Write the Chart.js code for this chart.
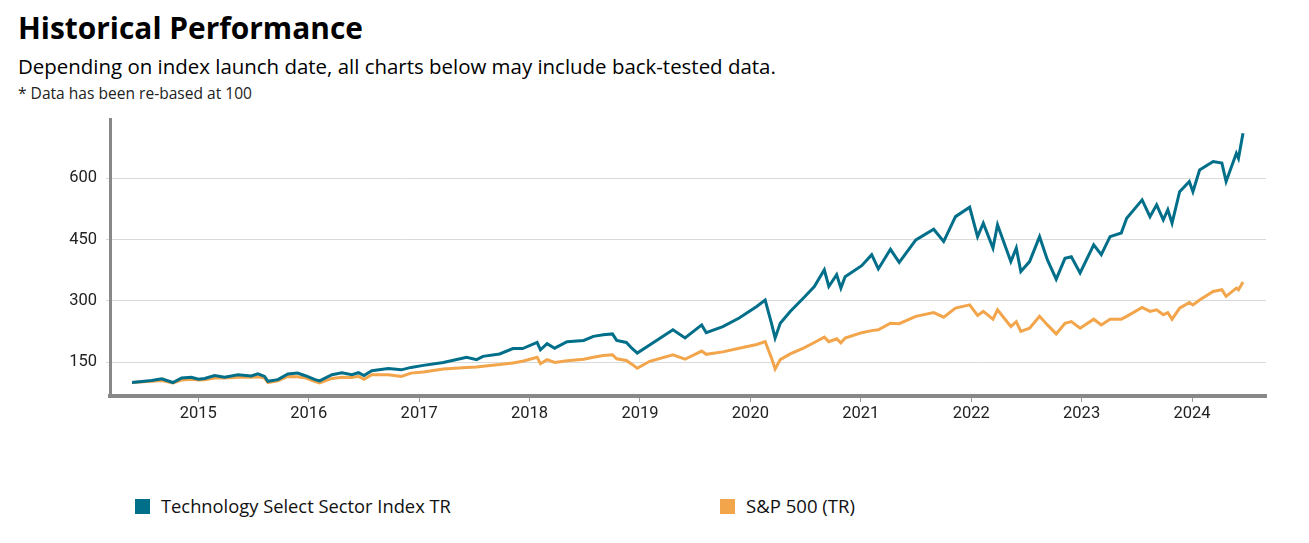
<!DOCTYPE html>
<html>
<head>
<meta charset="utf-8">
<script src="https://cdn.jsdelivr.net/npm/chart.js@4"></script>
<style>
  html, body { margin: 0; padding: 0; background: #fff; }
  body { width: 1309px; height: 543px; position: relative; overflow: hidden; font-family: "Open Sans", "Noto Sans", sans-serif; color: #000; }
  .txt { position: absolute; white-space: nowrap; line-height: 1; }
  #title { font-weight: 700; }
  #note { color: #222; }
  #wrap { position: absolute; left: 0; top: 100px; width: 1309px; height: 340px; }
  .sw { position: absolute; width: 15px; height: 15px; }
  .lt { color: #111; }
</style>
</head>
<body>
<div id="title" class="txt">Historical Performance</div>
<div id="subtitle" class="txt">Depending on index launch date, all charts below may include back-tested data.</div>
<div id="note" class="txt">* Data has been re-based at 100</div>
<div id="wrap"><canvas id="c"></canvas></div>
<div id="legend"></div>
<script>
// ---- data ----
const seriesNames = ["Technology Select Sector Index TR", "S&P 500 (TR)"];
const seriesColors = ["#016F89", "#F2A54B"];
const yTickValues = [150, 300, 450, 600];
const xTickYears = [2015, 2016, 2017, 2018, 2019, 2020, 2021, 2022, 2023, 2024];
const dates = [
  "2014-05-27","2014-07-31","2014-09-02","2014-10-09","2014-11-07","2014-12-09",
  "2015-01-01","2015-01-22","2015-02-24","2015-03-29","2015-05-12","2015-06-25","2015-07-17","2015-08-08","2015-08-19","2015-09-21","2015-10-24","2015-11-25","2015-12-23",
  "2016-01-22","2016-02-06","2016-03-18","2016-04-20","2016-05-23","2016-06-14","2016-07-02","2016-07-28","2016-09-21","2016-11-03","2016-12-05",
  "2017-01-15","2017-03-22","2017-06-07","2017-07-10","2017-07-31","2017-09-24","2017-11-07","2017-12-09",
  "2018-01-26","2018-02-06","2018-02-28","2018-03-25","2018-05-05","2018-06-29","2018-07-31","2018-09-02","2018-10-02","2018-10-16","2018-11-17","2018-12-05","2018-12-23",
  "2019-02-02","2019-04-20","2019-05-30","2019-07-24","2019-08-08","2019-10-02","2019-11-25",
  "2020-01-22","2020-02-19","2020-03-11","2020-03-23","2020-04-09","2020-05-12","2020-06-25","2020-07-31","2020-09-02","2020-09-17","2020-10-13","2020-10-27","2020-11-10",
  "2021-01-04","2021-02-06","2021-02-28","2021-04-09","2021-05-08","2021-07-02","2021-08-30","2021-10-02","2021-11-10","2021-12-27",
  "2022-01-22","2022-02-10","2022-03-14","2022-03-29","2022-05-12","2022-05-30","2022-06-14","2022-07-13","2022-08-15","2022-09-10","2022-10-09","2022-11-07","2022-11-28","2022-12-27",
  "2023-02-10","2023-03-07","2023-04-05","2023-05-12","2023-05-30","2023-07-20","2023-08-15","2023-09-06","2023-09-28","2023-10-13","2023-10-27","2023-11-21","2023-12-23",
  "2024-01-04","2024-01-26","2024-03-11","2024-04-09","2024-04-23","2024-05-27","2024-06-03","2024-06-18"
];
const techValues = [
  100,105,109,100,111,113,
  108,110,117,113,119,116,121,115,103,107,121,123,116,
  107,104,119,124,119,124,117,129,134,131,137,
  142,149,162,156,164,170,183,183,
  198,180,195,184,200,203,213,217,219,203,198,184,172,
  192,229,209,241,222,237,258,
  286,302,245,209,245,274,307,335,376,335,364,331,359,
  386,413,378,426,394,449,475,445,506,529,
  457,490,429,486,396,429,372,396,457,400,353,404,408,368,
  437,413,457,466,502,547,506,535,498,523,490,567,592,
  567,620,641,637,592,661,649,710
];
const spValues = [
  100,103,105,99,106,108,
  106,107,111,111,113,113,114,111,100,104,115,114,111,
  102,99,110,113,112,115,108,119,119,115,123,
  126,133,137,138,140,144,148,152,
  162,146,156,149,153,157,162,166,168,158,154,145,135,
  152,168,157,177,169,175,184,
  193,200,160,133,156,170,184,198,211,200,207,197,209,
  222,227,229,245,244,262,271,260,282,290,
  264,274,255,278,237,249,225,233,262,241,219,245,249,233,
  255,241,255,255,262,284,274,278,266,271,255,282,296,
  290,302,323,327,311,331,327,346
];
const xMin = 2014.2, xMax = 2024.67, yMin = 67, yMax = 745;

// ---- text layout: fit each text to its measured width/baseline in the reference ----
function place(el, left, baseline, targetWidth) {
  el.style.fontSize = "20px";
  const w = el.getBoundingClientRect().width;
  const size = 20 * targetWidth / w;
  el.style.fontSize = size.toFixed(2) + "px";
  el.style.left = left + "px";
  el.style.top = (baseline - 0.888 * size).toFixed(1) + "px";
}
place(document.getElementById("title"), 18, 39, 345);
place(document.getElementById("subtitle"), 18, 74, 758);
place(document.getElementById("note"), 18, 99.5, 234);

// ---- legend built from the series arrays ----
const legendSwatchLeft = [135, 720];
const legendTextWidth = [290, 109];
const lg = document.getElementById("legend");
seriesNames.forEach((n, i) => {
  const sw = document.createElement("div");
  sw.className = "sw";
  sw.style.left = legendSwatchLeft[i] + "px";
  sw.style.top = "499px";
  sw.style.background = seriesColors[i];
  lg.appendChild(sw);
  const t = document.createElement("div");
  t.className = "txt lt";
  t.textContent = n;
  lg.appendChild(t);
  place(t, legendSwatchLeft[i] + 26, 513.5, legendTextWidth[i]);
});

// ---- chart ----
function toYear(s) {
  const [y, m, d] = s.split("-").map(Number);
  const start = Date.UTC(y, 0, 1), end = Date.UTC(y + 1, 0, 1);
  return y + (Date.UTC(y, m - 1, d) - start) / (end - start);
}
const xs = dates.map(toYear);
const techPts = xs.map((x, i) => ({ x, y: techValues[i] }));
const spPts = xs.map((x, i) => ({ x, y: spValues[i] }));

const tickFont = { family: "Roboto, 'Noto Sans', sans-serif", size: 16.5 };

new Chart(document.getElementById("c"), {
  type: "line",
  data: {
    datasets: [
      { label: seriesNames[0], data: techPts, borderColor: seriesColors[0], backgroundColor: seriesColors[0], borderWidth: 3, pointRadius: 0, tension: 0, order: 0 },
      { label: seriesNames[1], data: spPts, borderColor: seriesColors[1], backgroundColor: seriesColors[1], borderWidth: 3, pointRadius: 0, tension: 0, order: 1 }
    ]
  },
  options: {
    responsive: true,
    maintainAspectRatio: false,
    animation: false,
    layout: { padding: { top: 19, right: 43, left: 0, bottom: 0 } },
    plugins: { legend: { display: false }, tooltip: { enabled: false } },
    scales: {
      x: {
        type: "linear", min: xMin, max: xMax,
        afterBuildTicks: s => { s.ticks = xTickYears.map(v => ({ value: v })); },
        afterFit: s => { s.height = 44; },
        ticks: { callback: v => String(v), color: "#222", font: tickFont, padding: 2, maxRotation: 0, autoSkip: false },
        grid: { drawOnChartArea: false, drawTicks: true, tickLength: 6, tickColor: "#999", tickWidth: 1 },
        border: { display: true, color: "#888", width: 4 }
      },
      y: {
        type: "linear", min: yMin, max: yMax,
        afterBuildTicks: s => { s.ticks = yTickValues.map(v => ({ value: v })); },
        afterFit: s => { s.width = 110; },
        ticks: { callback: v => String(v), color: "#222", font: tickFont, padding: 9 },
        grid: { color: "#dadada", lineWidth: 1, tickLength: 4, tickColor: "#dadada" },
        border: { display: true, color: "#888", width: 3 }
      }
    }
  }
});
</script>
</body>
</html>
